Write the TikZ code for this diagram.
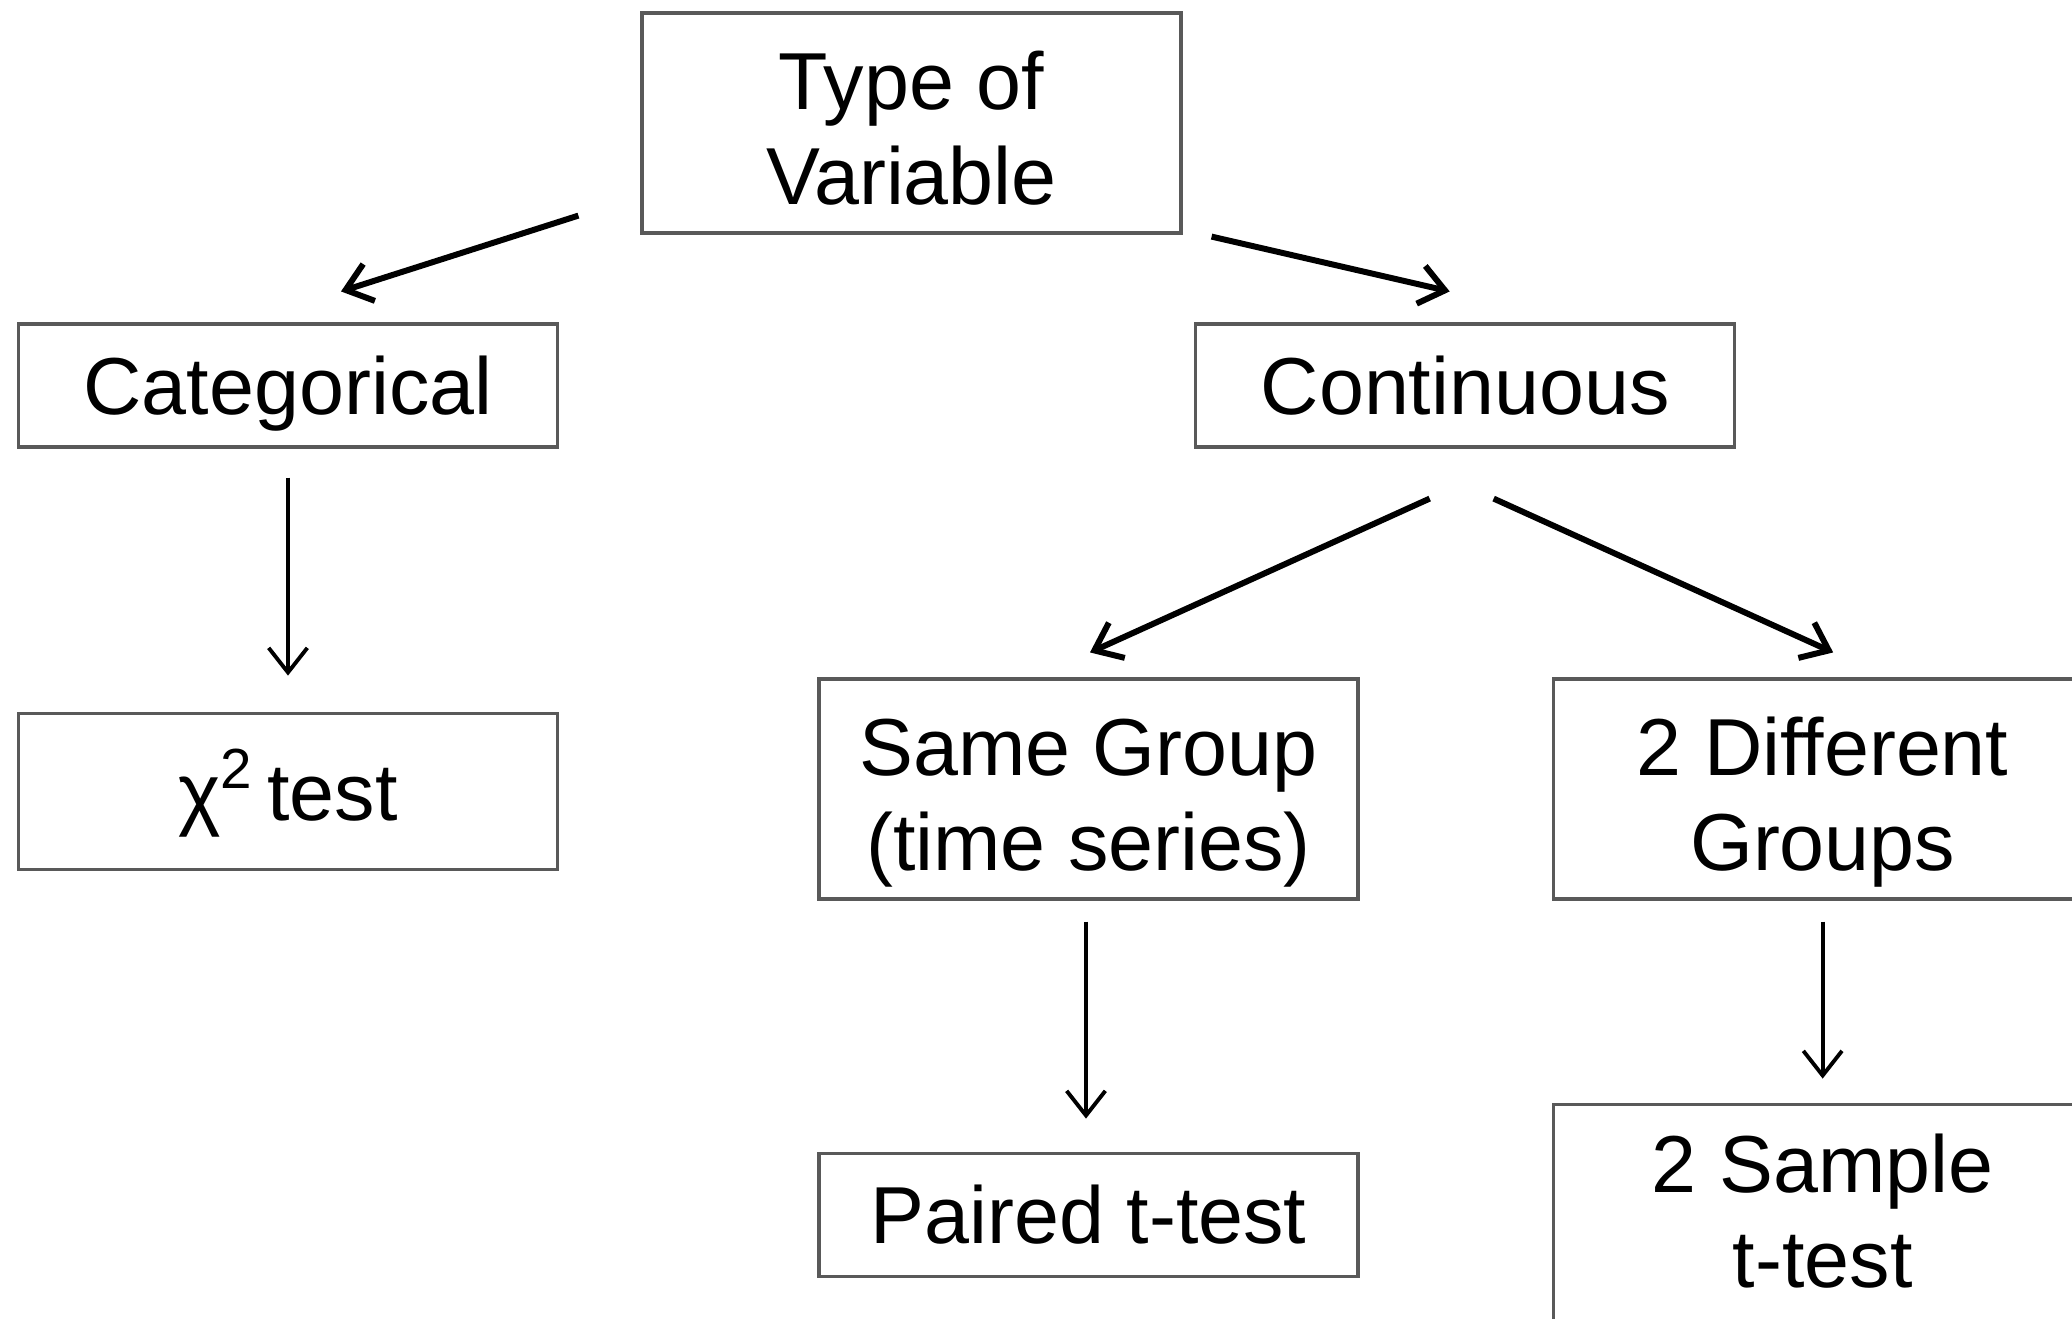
\documentclass[tikz,border=0pt]{standalone}
\usepackage{fontspec}
\setmainfont{Liberation Sans}
\usetikzlibrary{positioning, arrows.meta}

\newcommand{\boxstrut}{\rule[-5pt]{0pt}{26.5pt}}
\newcommand{\topstrut}{\rule[-5pt]{0pt}{29.5pt}}

\begin{document}
\begin{tikzpicture}[>={Straight Barb[length=7pt,width=11pt]},
    box node/.style={rectangle,draw=black!65,line width=0.9pt,minimum width=5.39cm,
      inner sep=0pt,align=center,font=\fontsize{23}{27}\selectfont,
      execute at begin node=\boxstrut,execute at end node=\boxstrut},
    tall node/.style={box node,minimum height=2.2cm},
    link/.style={->,line width=1.7pt}, down link/.style={->,line width=1.1pt}]

\useasboundingbox (0,0) rectangle (20.72,-13.18);

\node[tall node]                        (type)   at (9.115,-1.23)   {\topstrut Type of\\Variable};
\node[box node, minimum height=1.23cm]  (cat)    at (2.88,-3.855)   {Categorical};
\node[box node, minimum height=1.23cm]  (cont)   [right=6.35cm of cat]  {Continuous};
\node[box node, minimum height=1.56cm]  (chi)    [below=2.63cm of cat]  {χ\textsuperscript{2}\,test};
\node[tall node]                        (same)   at (10.885,-7.89)  {\topstrut Same Group\\(time series)};
\node[tall node]                        (diff)   [right=1.92cm of same] {\topstrut 2 Different\\Groups};
\node[box node, minimum height=1.23cm]  (paired) [below=2.51cm of same] {Paired t-test};
\node[box node, minimum height=2.3cm]   (sample) [below=2.02cm of diff] {2 Sample\\t-test};

\draw[link] ([xshift=-0.62cm,yshift=0.19cm]type.south west) -- ([xshift=0.53cm,yshift=0.31cm]cat.north);
\draw[link] ([xshift=0.29cm,yshift=-0.02cm]type.south east) -- ([xshift=-0.155cm,yshift=0.31cm]cont.north);
\draw[down link] ([yshift=-0.29cm]cat.south) -- ([yshift=0.36cm]chi.north);
\draw[link] ([xshift=-0.355cm,yshift=-0.5cm]cont.south) -- ([xshift=0.015cm,yshift=0.25cm]same.north);
\draw[link] ([xshift=0.285cm,yshift=-0.5cm]cont.south) -- ([xshift=0.105cm,yshift=0.25cm]diff.north);
\draw[down link] ([xshift=-0.025cm,yshift=-0.21cm]same.south) -- ([xshift=-0.025cm,yshift=0.33cm]paired.north);
\draw[down link] ([yshift=-0.21cm]diff.south) -- ([yshift=0.24cm]sample.north);
\end{tikzpicture}
\end{document}
